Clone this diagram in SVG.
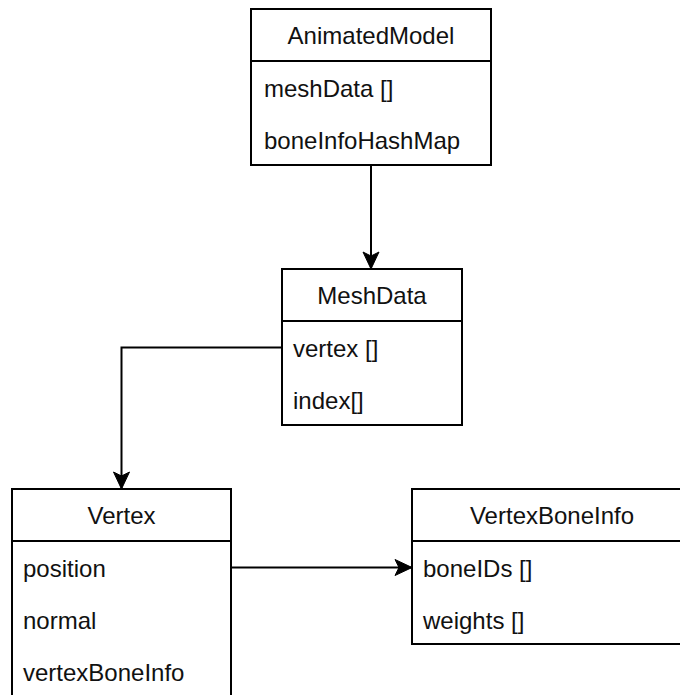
<svg xmlns="http://www.w3.org/2000/svg" width="680" height="695" viewBox="0 0 680 695">
  <style>
    .box { fill: #ffffff; stroke: #000000; stroke-width: 2; }
    .sep { stroke: #000000; stroke-width: 2; fill: none; }
    .title { font-family: "Liberation Sans", Arial, sans-serif; font-size: 24px; fill: #111111; text-anchor: middle; }
    .attr { font-family: "Liberation Sans", Arial, sans-serif; font-size: 24px; fill: #111111; }
    .edge { stroke: #000000; stroke-width: 2; fill: none; marker-end: url(#arrow); }
  </style>
  <defs>
    <marker id="arrow" markerUnits="userSpaceOnUse" markerWidth="20" markerHeight="20" refX="18" refY="9" orient="auto">
      <path d="M18,9 L1,1 L5,9 L1,17 Z" fill="#000000" stroke="#000000" stroke-width="1"/>
    </marker>
  </defs>

  <!-- connectors -->
  <g id="connectors">
    <path class="edge" d="M371,165 L371,269"/>
    <path class="edge" d="M282,347.5 L121.5,347.5 L121.5,489"/>
    <path class="edge" d="M231,567.5 L412,567.5"/>
  </g>

  <!-- AnimatedModel class -->
  <g id="AnimatedModel">
    <rect class="box" x="251" y="9" width="240" height="156"/>
    <line class="sep" x1="251" y1="61" x2="491" y2="61"/>
    <text class="title" x="371" y="44">AnimatedModel</text>
    <text class="attr" x="264" y="97">meshData []</text>
    <text class="attr" x="264" y="149">boneInfoHashMap</text>
  </g>

  <!-- MeshData class -->
  <g id="MeshData">
    <rect class="box" x="282" y="269" width="180" height="156"/>
    <line class="sep" x1="282" y1="321" x2="462" y2="321"/>
    <text class="title" x="372" y="304">MeshData</text>
    <text class="attr" x="293" y="357">vertex []</text>
    <text class="attr" x="293" y="409">index[]</text>
  </g>

  <!-- Vertex class -->
  <g id="Vertex">
    <rect class="box" x="12" y="489" width="219" height="220"/>
    <line class="sep" x1="12" y1="541" x2="231" y2="541"/>
    <text class="title" x="121.5" y="524">Vertex</text>
    <text class="attr" x="23" y="577">position</text>
    <text class="attr" x="23" y="629">normal</text>
    <text class="attr" x="23" y="681">vertexBoneInfo</text>
  </g>

  <!-- VertexBoneInfo class -->
  <g id="VertexBoneInfo">
    <rect class="box" x="412" y="489" width="280" height="155"/>
    <line class="sep" x1="412" y1="541" x2="692" y2="541"/>
    <text class="title" x="552" y="524">VertexBoneInfo</text>
    <text class="attr" x="423" y="577">boneIDs []</text>
    <text class="attr" x="423" y="629">weights []</text>
  </g>
</svg>
